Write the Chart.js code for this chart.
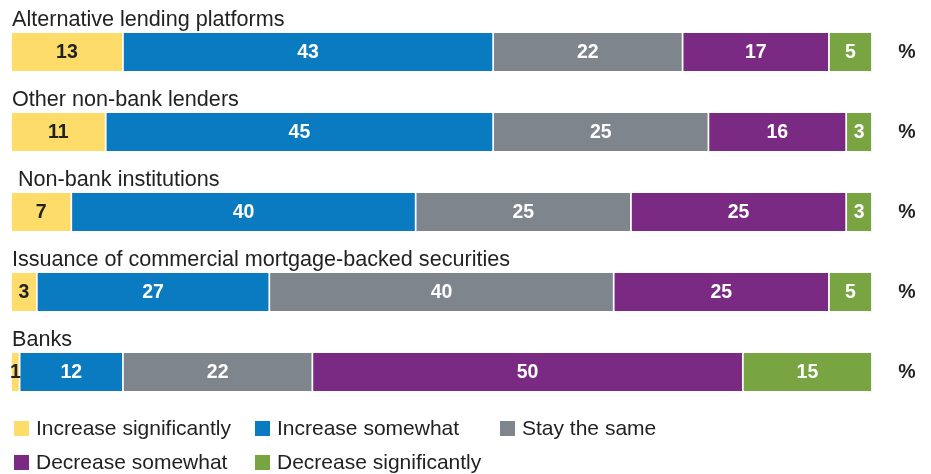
<!DOCTYPE html>
<html>
<head>
<meta charset="utf-8">
<script src="https://cdn.jsdelivr.net/npm/chart.js@4/dist/chart.umd.min.js"></script>
<style>
  body { margin: 0; background: #fff; font-family: "Liberation Sans", Arial, sans-serif; }
  #wrap { position: relative; width: 931px; height: 474px; }
  #legend { position: absolute; left: 14px; top: 416px; display: grid; grid-template-columns: 241px 245px auto; row-gap: 10px; }
  .item { display: flex; align-items: center; font-size: 21px; color: #222; white-space: nowrap; }
  .box { width: 15px; height: 15px; margin-right: 7px; }
</style>
</head>
<body>
<div id="wrap">
  <canvas id="chart"></canvas>
  <div id="legend"></div>
</div>
<script>
// 카테고리 (위에서 아래 순서)
const categories = [
    'Alternative lending platforms',
    'Other non-bank lenders',
    ' Non-bank institutions',
    'Issuance of commercial mortgage-backed securities',
    'Banks'
];

const seriesNames = ['Increase significantly', 'Increase somewhat', 'Stay the same', 'Decrease somewhat', 'Decrease significantly'];
const seriesColors = ['#fedc6a', '#0a7bc1', '#7e858c', '#7b2a83', '#78a441'];

// 각 응답별 값 (%)
const increaseSignificantly = [13, 11, 7, 3, 1];
const increaseSomewhat = [43, 45, 40, 27, 12];
const stayTheSame = [22, 25, 25, 40, 22];
const decreaseSomewhat = [17, 16, 25, 25, 50];
const decreaseSignificantly = [5, 3, 3, 5, 15];

const seriesValues = [increaseSignificantly, increaseSomewhat, stayTheSame, decreaseSomewhat, decreaseSignificantly];

// 막대 위 카테고리 이름, 막대 안 숫자, 오른쪽 % 표시
const labelPlugin = {
    id: 'labels',
    afterDatasetsDraw(chart) {
        const ctx = chart.ctx;
        const yScale = chart.scales.y;
        ctx.save();

        // 카테고리 이름
        ctx.font = '21.6px "Liberation Sans", Arial, sans-serif';
        ctx.fillStyle = '#222';
        ctx.textAlign = 'left';
        ctx.textBaseline = 'alphabetic';
        categories.forEach((cat, i) => {
            const y = yScale.getPixelForValue(i);
            ctx.fillText(cat, 12, y - 26);
        });

        // 세그먼트 값
        ctx.font = 'bold 19.5px "Liberation Sans", Arial, sans-serif';
        ctx.textAlign = 'center';
        ctx.textBaseline = 'middle';
        chart.data.datasets.forEach((ds, di) => {
            const meta = chart.getDatasetMeta(di);
            meta.data.forEach((bar, i) => {
                const cx = (bar.x + bar.base) / 2;
                ctx.fillStyle = di === 0 ? '#222' : '#fff';
                ctx.fillText(String(ds.data[i]), cx, bar.y + 1);
            });
        });

        // % 표시
        ctx.fillStyle = '#222';
        categories.forEach((cat, i) => {
            ctx.fillText('%', 907, yScale.getPixelForValue(i) + 1);
        });
        ctx.restore();
    }
};

new Chart(document.getElementById('chart'), {
    type: 'bar',
    data: {
        labels: categories,
        datasets: seriesNames.map((name, i) => ({
            label: name,
            data: seriesValues[i],
            backgroundColor: seriesColors[i],
            borderColor: '#fff',
            borderWidth: { left: 1.2, right: 1.2, top: 0, bottom: 0 },
            borderSkipped: false,
            barThickness: 38
        }))
    },
    options: {
        indexAxis: 'y',
        responsive: true,
        maintainAspectRatio: false,
        animation: false,
        layout: { padding: { top: 12, bottom: 62, left: 11, right: 59 } },
        plugins: {
            legend: { display: false },
            tooltip: { enabled: false }
        },
        scales: {
            x: { stacked: true, min: 0, max: 100, display: false },
            y: { stacked: true, display: false }
        }
    },
    plugins: [labelPlugin]
});

// 범례 (HTML)
const legendEl = document.getElementById('legend');
seriesNames.forEach((name, i) => {
    const item = document.createElement('div');
    item.className = 'item';
    item.innerHTML = `<span class="box" style="background:${seriesColors[i]}"></span>${name}`;
    legendEl.appendChild(item);
});
</script>
</body>
</html>
